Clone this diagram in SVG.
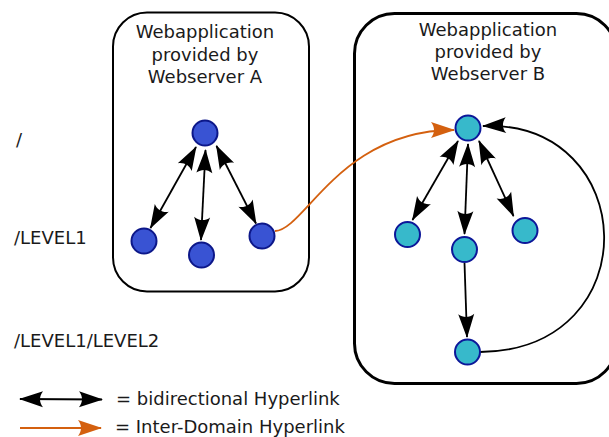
<svg xmlns="http://www.w3.org/2000/svg" width="609" height="437" viewBox="0 0 609 437">
<style>
text{font-family:"DejaVu Sans","Liberation Sans",sans-serif;font-size:18px;fill:#1a1a1a}
.box{fill:#fff;stroke:#000}
.na{fill:#3953d3;stroke:#0c1789;stroke-width:2}
.nb{fill:#37b9cb;stroke:#0c1799;stroke-width:2}
.ln{fill:none;stroke:#000;stroke-width:1.8}
.or{fill:none;stroke:#d4600f;stroke-width:1.8}
</style>
<defs>
<marker id="ah" viewBox="-26 -10 28 20" refX="0" refY="0" markerWidth="28" markerHeight="20" markerUnits="userSpaceOnUse" orient="auto-start-reverse">
<path d="M1,0 L-23,-8 C-19,-3 -19,3 -23,8 Z" fill="#000"/>
</marker>
<marker id="ao" viewBox="-26 -10 28 20" refX="0" refY="0" markerWidth="28" markerHeight="20" markerUnits="userSpaceOnUse" orient="auto">
<path d="M1,0 L-23,-8 C-19,-3 -19,3 -23,8 Z" fill="#d4600f"/>
</marker>
</defs>
<g id="boxA"><rect class="box" x="113" y="12.5" width="196" height="279" rx="34" stroke-width="2"/>
<text x="205" y="38" text-anchor="middle">Webapplication</text>
<text x="205" y="61" text-anchor="middle">provided by</text>
<text x="205" y="83" text-anchor="middle">Webserver A</text></g>
<g id="boxB"><rect class="box" x="354.5" y="13.5" width="262" height="370" rx="40" stroke-width="3"/>
<text x="488" y="36" text-anchor="middle">Webapplication</text>
<text x="488" y="58" text-anchor="middle">provided by</text>
<text x="488" y="80" text-anchor="middle">Webserver B</text></g>
<g id="levels">
<text x="16" y="146">/</text>
<text x="14" y="244">/LEVEL1</text>
<text x="14" y="347">/LEVEL1/LEVEL2</text>
</g>
<g id="connectors">
<path class="ln" d="M196,147 L150.5,228" marker-start="url(#ah)" marker-end="url(#ah)"/>
<path class="ln" d="M205.5,150 L201,240" marker-start="url(#ah)" marker-end="url(#ah)"/>
<path class="ln" d="M216.5,146 L256,223.5" marker-start="url(#ah)" marker-end="url(#ah)"/>
<path class="ln" d="M458,141 L412.5,220" marker-start="url(#ah)" marker-end="url(#ah)"/>
<path class="ln" d="M468,144 L464.5,234" marker-start="url(#ah)" marker-end="url(#ah)"/>
<path class="ln" d="M479,141 L513.5,216" marker-start="url(#ah)" marker-end="url(#ah)"/>
<path class="ln" d="M464.5,263 L467,337" marker-end="url(#ah)"/>
<path class="ln" d="M480,352 C650,350 640,120 483,126" marker-end="url(#ah)"/>
<path class="or" d="M275,231 C305,230 340,130 454,130" marker-end="url(#ao)"/>
</g>
<g id="nodesA">
<circle id="a0" class="na" cx="205" cy="133" r="12.5"/>
<circle id="a1" class="na" cx="144" cy="241" r="12.5"/>
<circle id="a2" class="na" cx="201.5" cy="255" r="12.5"/>
<circle id="a3" class="na" cx="262" cy="236" r="12.5"/>
</g>
<g id="nodesB">
<circle id="b0" class="nb" cx="468" cy="128" r="12.5"/>
<circle id="b1" class="nb" cx="407.5" cy="234.5" r="12.5"/>
<circle id="b2" class="nb" cx="464.5" cy="249.5" r="12.5"/>
<circle id="b3" class="nb" cx="525" cy="230.5" r="12.5"/>
<circle id="b4" class="nb" cx="467.5" cy="352" r="12.5"/>
</g>
<g id="legend">
<path class="ln" d="M20,399 L102,399.5" marker-start="url(#ah)" marker-end="url(#ah)"/>
<path class="or" d="M20,428 L101,428" marker-end="url(#ao)"/>
<text x="116" y="405">= bidirectional Hyperlink</text>
<text x="115" y="433">= Inter-Domain Hyperlink</text>
</g>
</svg>
